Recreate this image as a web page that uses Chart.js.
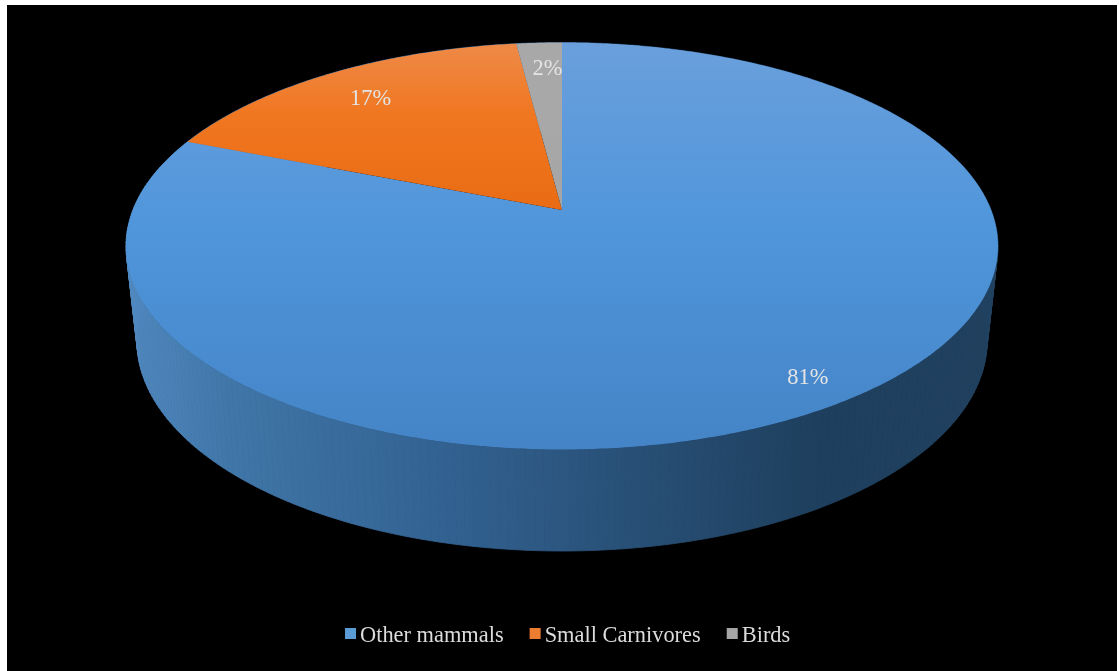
<!DOCTYPE html>
<html>
<head>
<meta charset="utf-8">
<script src="https://cdn.jsdelivr.net/npm/chart.js@4"></script>
<style>
  html, body { margin: 0; padding: 0; background: #fff; }
  #wrap { position: absolute; left: 0; top: 0; width: 1119px; height: 671px; }
</style>
</head>
<body>
<div id="wrap"><canvas id="pie"></canvas></div>
<script>
const categories = ['Other mammals', 'Small Carnivores', 'Birds'];
const shares = [81, 17, 2];
const swatches = ['#5B9BD5', '#ED7D31', '#A5A5A5'];

// Tilted disc: top face ellipse, the lower rim ellipse and the off-centre hub.
const disc = {
  top:    { cx: 562, cy: 246, rx: 436, ry: 203.5 },
  bottom: { cx: 562, cy: 341, rx: 425, ry: 210 },
  hubShift: 36 / 203.5
};
// Slice faces shade from light at the back to saturated at the front.
const faceShades = [
  ['#6A9FDC', '#5096DB', '#4484C6'],
  ['#EE8A48', '#F0761F', '#E96C14'],
  ['#A8A8A8', '#A8A8A8', '#A5A5A5']
];
const labelReach = [0.887, 0.81, 0.835];
const labelNudgeX = [0, 0, 5];

// Perspective map of the unit circle onto the unit ellipse, hub moved backwards.
function project(u, v) {
  const c = disc.hubShift, d = 1 - c * v;
  return { x: u * Math.sqrt(1 - c * c) / d, y: (v - c) / d };
}
function onFace(face, u, v) {
  const p = project(u, v);
  return { x: face.cx + face.rx * p.x, y: face.cy + face.ry * p.y };
}

const pie3d = {
  id: 'pie3d',
  beforeDraw(chart) {
    const ctx = chart.ctx;
    ctx.save();
    ctx.fillStyle = '#fff';
    ctx.fillRect(0, 0, chart.width, chart.height);
    ctx.fillStyle = '#000';
    ctx.fillRect(7, 5, 1110, 666);
    ctx.restore();
  },
  beforeDatasetsDraw(chart) {
    const ctx = chart.ctx;
    const arcs = chart.getDatasetMeta(0).data;
    const step = Math.PI / 180;

    // Rim wall, shaded left to right like a lit cylinder.
    const wall = ctx.createLinearGradient(126, 0, 999, 0);
    wall.addColorStop(0, '#5089C0');
    wall.addColorStop(0.12, '#4076A8');
    wall.addColorStop(0.35, '#336393');
    wall.addColorStop(0.6, '#274E74');
    wall.addColorStop(0.8, '#1E3F5D');
    wall.addColorStop(1, '#20415F');
    ctx.save();
    ctx.fillStyle = wall;
    ctx.strokeStyle = wall;
    ctx.lineWidth = 0.8;
    arcs.forEach(arc => {
      for (let a = arc.startAngle; a < arc.endAngle; a += step) {
        const b = Math.min(a + step, arc.endAngle);
        const p0 = onFace(disc.top, Math.cos(a), Math.sin(a));
        const p1 = onFace(disc.top, Math.cos(b), Math.sin(b));
        const q1 = onFace(disc.bottom, Math.cos(b), Math.sin(b));
        const q0 = onFace(disc.bottom, Math.cos(a), Math.sin(a));
        ctx.beginPath();
        ctx.moveTo(p0.x, p0.y);
        ctx.lineTo(p1.x, p1.y);
        ctx.lineTo(q1.x, q1.y);
        ctx.lineTo(q0.x, q0.y);
        ctx.closePath();
        ctx.fill();
        ctx.stroke();
      }
    });

    // Top faces of the slices.
    arcs.forEach((arc, i) => {
      const y0 = disc.top.cy - disc.top.ry;
      const y1 = disc.top.cy + disc.top.ry;
      const g = ctx.createLinearGradient(0, y0, 0, i === 0 ? y1 : disc.top.cy - 36);
      g.addColorStop(0, faceShades[i][0]);
      g.addColorStop(0.45, faceShades[i][1]);
      g.addColorStop(1, faceShades[i][2]);
      ctx.fillStyle = g;
      ctx.beginPath();
      const hub = onFace(disc.top, 0, 0);
      ctx.moveTo(hub.x, hub.y);
      for (let a = arc.startAngle; a < arc.endAngle; a += step / 2) {
        const p = onFace(disc.top, Math.cos(a), Math.sin(a));
        ctx.lineTo(p.x, p.y);
      }
      const end = onFace(disc.top, Math.cos(arc.endAngle), Math.sin(arc.endAngle));
      ctx.lineTo(end.x, end.y);
      ctx.closePath();
      ctx.fill();
    });

    // Percentage labels on the faces.
    ctx.font = '22.4px "Liberation Serif"';
    ctx.fillStyle = '#E4E4E4';
    ctx.textAlign = 'center';
    ctx.textBaseline = 'middle';
    arcs.forEach((arc, i) => {
      const mid = (arc.startAngle + arc.endAngle) / 2;
      const r = labelReach[i];
      const p = onFace(disc.top, r * Math.cos(mid), r * Math.sin(mid));
      ctx.fillText(shares[i] + '%', p.x + labelNudgeX[i], p.y + 2);
    });

    // Legend row with tight swatch-to-text spacing.
    ctx.textAlign = 'left';
    let x = 345;
    categories.forEach((name, i) => {
      ctx.fillStyle = swatches[i];
      ctx.fillRect(x, 628, 11, 11);
      x += 15;
      ctx.fillStyle = '#DCDCDC';
      ctx.fillText(name, x, 636);
      x += ctx.measureText(name).width + 26;
    });
    ctx.restore();
    return false;
  }
};

new Chart(document.getElementById('pie'), {
  type: 'pie',
  data: {
    labels: categories,
    datasets: [{ data: shares, backgroundColor: swatches, borderWidth: 0 }]
  },
  options: {
    responsive: true,
    maintainAspectRatio: false,
    animation: false,
    plugins: { legend: { display: false }, tooltip: { enabled: false } }
  },
  plugins: [pie3d]
});
</script>
</body>
</html>
